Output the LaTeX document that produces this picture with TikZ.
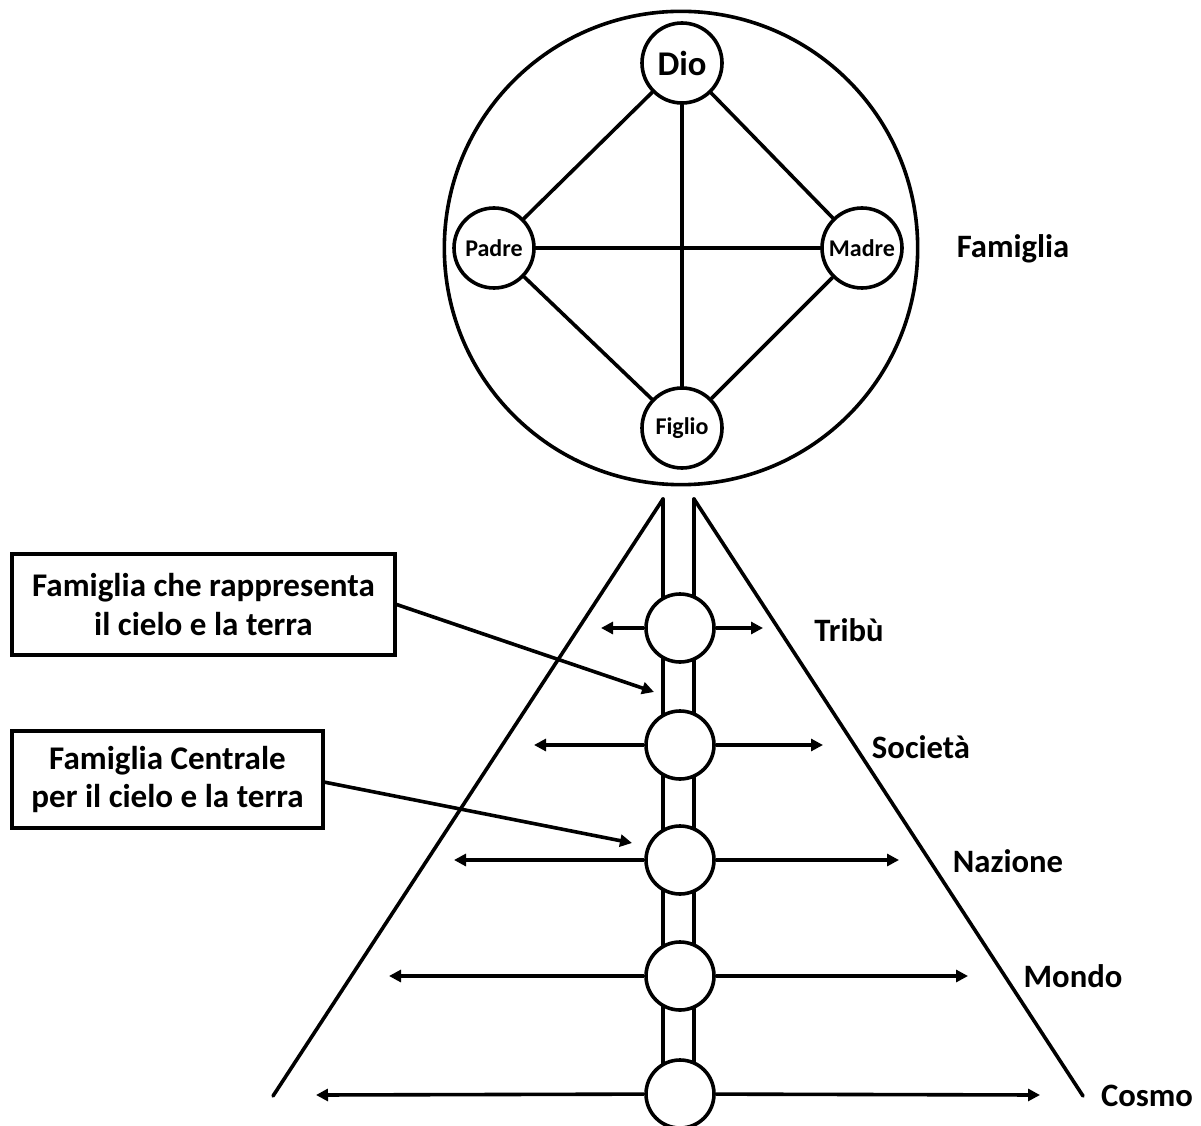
\documentclass[tikz,border=0pt]{standalone}
\usepackage{fontspec}
\setmainfont{Carlito}
\usetikzlibrary{arrows.meta}
\begin{document}
\begin{tikzpicture}[x=0.75pt,y=-0.75pt,
  ln/.style={line width=2.7pt,line cap=round},
  arr/.style={line width=2.7pt,-{Triangle[length=9pt,width=9pt]}},
  small/.style={circle,draw,line width=2.7pt,fill=white,minimum size=60pt,inner sep=0pt,font=\bfseries\fontsize{18}{21}\selectfont},
  pole/.style={circle,draw,line width=2.7pt,fill=white,minimum size=51pt,inner sep=0pt},
  lbl/.style={font=\bfseries\fontsize{24.5}{28}\selectfont},
  boxn/.style={draw,line width=2.7pt,align=center,font=\bfseries\fontsize{24.8}{29}\selectfont,inner sep=0pt}
]
\useasboundingbox (0,0) rectangle (1201,1126);
% top circle
\node[circle,draw,line width=2.7pt,minimum size=355pt,inner sep=0pt] (big) at (681,248) {};
\node[small,font=\bfseries\fontsize{26}{30}\selectfont] (dio) at (682,63) {Dio};
\node[small] (padre) at (494,248) {Padre};
\node[small] (madre) at (862,248) {Madre};
\node[small] (figlio) at (682,428) {Figlio};
\draw[ln] (dio) -- (figlio);
\draw[ln] (padre) -- (madre);
\draw[ln] (dio) -- (padre);
\draw[ln] (dio) -- (madre);
\draw[ln] (figlio) -- (padre);
\draw[ln] (figlio) -- (madre);
\node[lbl] (famiglia) at (1013,249) {Famiglia};
% pyramid
\coordinate (al) at (663,499);
\coordinate (ar) at (694,499);
\coordinate (bl) at (273,1096);
\coordinate (br) at (1083,1096);
\coordinate (pl) at (663,1094);
\coordinate (pr) at (694,1094);
\draw[ln] (al) -- (bl);
\draw[ln] (ar) -- (br);
\draw[ln] (al) -- (pl);
\draw[ln] (ar) -- (pr);
% pole circles
\node[pole] (c1) at (680,628) {};
\node[pole] (c2) at (680,745) {};
\node[pole] (c3) at (680,860) {};
\node[pole] (c4) at (680,976) {};
\node[pole] (c5) at (680,1094) {};
% arrow ends
\coordinate (l1) at (601,628); \coordinate (r1) at (763,628);
\coordinate (l2) at (534,745); \coordinate (r2) at (823,745);
\coordinate (l3) at (454,860); \coordinate (r3) at (899,860);
\coordinate (l4) at (389,976); \coordinate (r4) at (968,976);
\coordinate (l5) at (316,1095); \coordinate (r5) at (1040,1095);
\draw[arr] (c1) -- (l1); \draw[arr] (c1) -- (r1);
\draw[arr] (c2) -- (l2); \draw[arr] (c2) -- (r2);
\draw[arr] (c3) -- (l3); \draw[arr] (c3) -- (r3);
\draw[arr] (c4) -- (l4); \draw[arr] (c4) -- (r4);
\draw[arr] (c5) -- (l5); \draw[arr] (c5) -- (r5);
% labels
\node[lbl] (tribu) at (849,630) {Tribù};
\node[lbl] (societa) at (921,747) {Società};
\node[lbl] (nazione) at (1008,861) {Nazione};
\node[lbl] (mondo) at (1073,976) {Mondo};
\node[lbl] (cosmo) at (1147,1096) {Cosmo};
% boxes
\node[boxn,minimum width=287pt,minimum height=75.5pt] (b1) at (203.5,604.5) {Famiglia che rappresenta\\il cielo e la terra};
\node[boxn,minimum width=233pt,minimum height=72.5pt] (b2) at (167.5,779.5) {Famiglia Centrale\\per il cielo e la terra};
\coordinate (t1) at (654,692);
\coordinate (t2) at (632,843);
\draw[arr] (b1.east) -- (t1);
\draw[arr] ([yshift=-2pt]b2.east) -- (t2);
\end{tikzpicture}
\end{document}
